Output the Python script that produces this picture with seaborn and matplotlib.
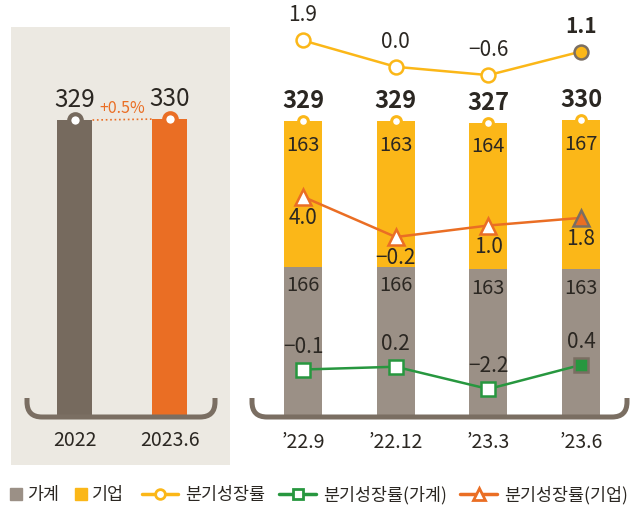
import matplotlib
matplotlib.use('Agg')
import matplotlib.pyplot as plt
import seaborn as sns
from matplotlib.path import Path
from matplotlib.patches import PathPatch, Patch
from matplotlib.lines import Line2D

# 연간 대출 잔액 (조원)
years = ['2022', '2023.6']
year_totals = [329, 330]
year_change = '+0.5%'

# 분기별 잔액 및 분기성장률 (%)
quarters = ['\u201922.9', '\u201922.12', '\u201923.3', '\u201923.6']
household = [166, 166, 163, 163]
corporate = [163, 163, 164, 167]
totals = [329, 329, 327, 330]
growth = [1.9, 0.0, -0.6, 1.1]
growth_household = [-0.1, 0.2, -2.2, 0.4]
growth_corporate = [4.0, -0.2, 1.0, 1.8]

BROWN = '#766A5E'
ORANGE = '#EA6E24'
GRAY = '#9B9086'
YELLOW = '#FBB718'
GREEN = '#27973F'
EDGE = '#7A6E62'
BEIGE = '#ECE9E2'
TEXT = '#2B2722'

sns.set_theme(style='white')
plt.rcParams['font.family'] = ['Noto Sans CJK KR', 'DejaVu Sans']

W, H = 636, 509
fig = plt.figure(figsize=(W / 100, H / 100), dpi=100)


def rect(x0, y0, x1, y1):
    # pixel box (top-left origin) -> figure fraction
    return [x0 / W, 1 - y1 / H, (x1 - x0) / W, (y1 - y0) / H]


def ylim_px(top, bottom, y_zero, ppu):
    return ((y_zero - bottom) / ppu, (y_zero - top) / ppu)


def xlim_px(left, right, x_first, step):
    return ((left - x_first) / step, (right - x_first) / step)


def fmt(v):
    return f'{v:.1f}'.replace('-', '\u2212')


def bracket(x0, x1, yb, yt, r=15):
    pts = [(x0, yt), (x0, yb - r), (x0, yb), (x0 + r, yb), (x1 - r, yb),
           (x1, yb), (x1, yb - r), (x1, yt)]
    codes = [Path.MOVETO, Path.LINETO, Path.CURVE3, Path.CURVE3, Path.LINETO,
             Path.CURVE3, Path.CURVE3, Path.LINETO]
    pts = [(x / W, 1 - y / H) for x, y in pts]
    fig.add_artist(PathPatch(Path(pts, codes), transform=fig.transFigure,
                             fill=False, edgecolor=EDGE, lw=3.6, zorder=10))


def clean(ax):
    ax.set_xticks([])
    ax.set_yticks([])
    ax.set_xlabel('')
    ax.set_ylabel('')
    for s in ax.spines.values():
        s.set_visible(False)


# ---- left panel: yearly totals
ax_l = fig.add_axes(rect(11, 27, 230, 465))
ax_l.set_facecolor(BEIGE)
sns.barplot(x=years, y=year_totals, hue=years, palette=[BROWN, ORANGE],
            width=35 / 95, saturation=1, legend=False, linewidth=0, ax=ax_l)
ax_l.set_xlim(*xlim_px(11, 230, 75, 95))
ax_l.set_ylim(*ylim_px(27, 465, 417, 297 / 329))
clean(ax_l)
w = 35 / 95
ax_l.plot([w / 2, 1 - w / 2], year_totals, ls=':', lw=1.2, color=ORANGE, zorder=3)
for i, (t, c) in enumerate(zip(year_totals, [BROWN, ORANGE])):
    ax_l.plot([i], [t], marker='o', ms=9, mfc='white', mec=c, mew=3, zorder=4)
    ax_l.annotate(str(t), (i, t), xytext=(0, 20), textcoords='offset pixels',
                  ha='center', va='center', fontsize=17.5, color=TEXT)
    ax_l.annotate(years[i], (i, 0), xytext=(0, -24), textcoords='offset pixels',
                  ha='center', va='center', fontsize=14, color=TEXT)
ax_l.annotate(year_change, (0.5, sum(year_totals) / 2), xytext=(0, 11),
              textcoords='offset pixels', ha='center', va='center',
              fontsize=11.5, color=ORANGE)

# ---- right panel: quarterly stacked bars
ax_r = fig.add_axes(rect(250, 0, 632, 465))
ax_r.patch.set_alpha(0)
step = 92.7
bw = 38 / step
sns.barplot(x=quarters, y=totals, color=YELLOW, width=bw, saturation=1,
            linewidth=0, ax=ax_r)
sns.barplot(x=quarters, y=household, color=GRAY, width=bw, saturation=1,
            linewidth=0, ax=ax_r)
ax_r.set_xlim(*xlim_px(250, 632, 303, step))
ax_r.set_ylim(*ylim_px(0, 465, 415, 0.893))
clean(ax_r)
for i in range(len(quarters)):
    ax_r.plot([i], [totals[i]], marker='o', ms=7, mfc='white', mec=YELLOW, mew=2.2, zorder=4)
    ax_r.annotate(str(totals[i]), (i, totals[i]), xytext=(0, 20), textcoords='offset pixels',
                  ha='center', va='center', fontsize=17, fontweight='bold', color=TEXT)
    ax_r.annotate(str(corporate[i]), (i, totals[i]), xytext=(0, -24), textcoords='offset pixels',
                  ha='center', va='center', fontsize=14.5, color=TEXT)
    ax_r.annotate(str(household[i]), (i, household[i]), xytext=(0, -19), textcoords='offset pixels',
                  ha='center', va='center', fontsize=14.5, color=TEXT)
    ax_r.annotate(quarters[i], (i, 0), xytext=(0, -27), textcoords='offset pixels',
                  ha='center', va='center', fontsize=14, color=TEXT)

# ---- growth-rate lines, each on its own scale
lines = [
    (growth, YELLOW, 'o', 10, (66.8, 13.88), 25),
    (growth_household, GREEN, 's', 10, (368.6, 9.28), 23),
    (growth_corporate, ORANGE, '^', 11, (235.1, 9.59), -21),
]
xs = list(range(len(quarters)))
for vals, col, mk, ms, (y0, ppu), off in lines:
    tw = ax_r.twinx()
    tw.set_ylim(*ylim_px(0, 465, y0, ppu))
    tw.set_axis_off()
    tw.plot(xs, vals, color=col, lw=1.8, marker=mk, ms=ms, mfc='white',
            mec=col, mew=1.8, markevery=[0, 1, 2], zorder=5)
    tw.plot(xs[-1:], vals[-1:], ls='none', marker=mk, ms=ms, mfc=col, mec=EDGE,
            mew=1.8, zorder=6)
    for i, v in enumerate(vals):
        bold = (col == YELLOW and i == len(vals) - 1)
        tw.annotate(fmt(v), (i, v), xytext=(0, off), textcoords='offset pixels',
                    ha='center', va='center', fontsize=15, color=TEXT,
                    fontweight='bold' if bold else 'normal')

bracket(27, 215, 417, 398)
bracket(252, 627, 417, 398)

# ---- legends
sq = [Patch(color=GRAY), Patch(color=YELLOW)]
fig.legend(sq, ['가계', '기업'], loc='center left', bbox_to_anchor=(10 / W, 1 - 495 / H),
           ncol=2, frameon=False, fontsize=12.5, handlelength=0.7, handleheight=0.7,
           handletextpad=0.3, columnspacing=0.9, borderpad=0, borderaxespad=0,
           labelcolor=TEXT)
ln = [Line2D([], [], color=YELLOW, lw=2.5, marker='o', ms=7, mfc='white', mec=YELLOW, mew=2),
      Line2D([], [], color=GREEN, lw=2.5, marker='s', ms=7, mfc='white', mec=GREEN, mew=2),
      Line2D([], [], color=ORANGE, lw=2.5, marker='^', ms=8, mfc='white', mec=ORANGE, mew=2)]
fig.legend(ln, ['분기성장률', '분기성장률(가계)', '분기성장률(기업)'], loc='center left',
           bbox_to_anchor=(142 / W, 1 - 495 / H), ncol=3, frameon=False, fontsize=12.5,
           handlelength=2.1, handletextpad=0.4, columnspacing=0.8, borderpad=0,
           borderaxespad=0, labelcolor=TEXT)

fig.savefig('out.png', dpi=100)
